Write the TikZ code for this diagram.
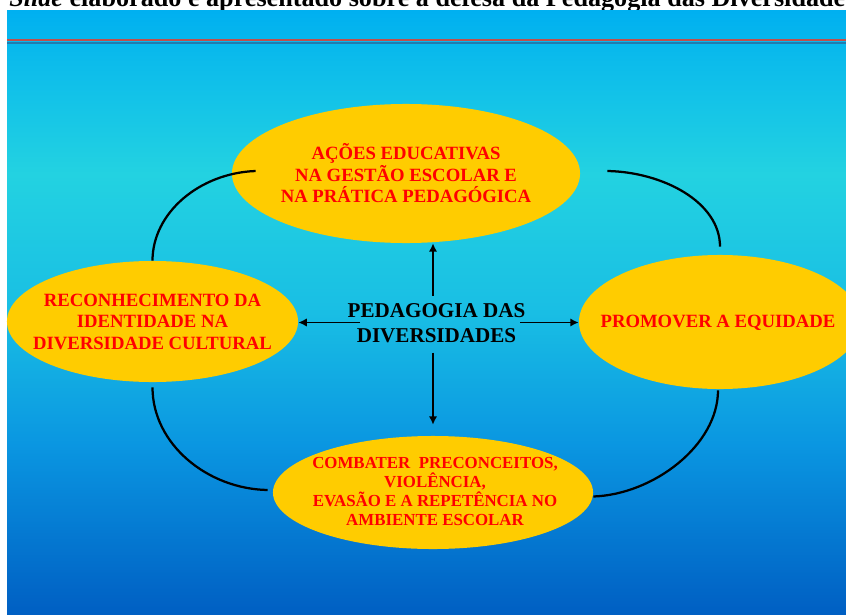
\documentclass[tikz,border=0pt]{standalone}
\usepackage{fontspec}
\setmainfont{Liberation Serif}
\usepackage{tikz}
\usetikzlibrary{calc, shapes.geometric, arrows.meta}

\definecolor{amarelo}{RGB}{255,204,0}
\definecolor{vermelho}{RGB}{255,0,0}
\definecolor{linha}{RGB}{192,80,77}
\definecolor{sombra}{RGB}{40,110,160}
\definecolor{fundoA}{RGB}{0,176,240}
\definecolor{fundoB}{RGB}{10,186,236}
\definecolor{fundoC}{RGB}{35,210,225}
\definecolor{fundoD}{RGB}{25,190,228}
\definecolor{fundoE}{RGB}{10,150,225}
\definecolor{fundoF}{RGB}{0,95,195}
\pgfdeclareverticalshading{fundoslide}{100bp}{color(0bp)=(fundoF); color(25bp)=(fundoF); color(39bp)=(fundoE); color(50bp)=(fundoD); color(61.5bp)=(fundoC); color(71.5bp)=(fundoB); color(75bp)=(fundoA); color(100bp)=(fundoA)}

\tikzset{
  bolha/.style={ellipse, fill=amarelo, inner sep=0pt},
  rotulo/.style={text=vermelho, align=center, font=\bfseries\fontsize{13.3}{15.3}\selectfont},
  centro/.style={align=center, font=\bfseries\fontsize{15}{17.8}\selectfont},
  arco/.style={line width=1.6pt},
  seta/.style={line width=1.4pt, -{Latex[length=6pt,width=6pt]}}
}

\begin{document}
\begin{tikzpicture}[x=0.025cm, y=0.025cm]
        \useasboundingbox (0,0) rectangle (846,614);
        \node[anchor=base west, inner sep=0pt, font=\bfseries\fontsize{18.6}{22}\selectfont] (titulo) at (9,607) {\textit{Slide} elaborado e apresentado sobre a defesa da Pedagogia das Diversidades};
        \fill[shading=fundoslide] (7,0) rectangle (846,603);
        \draw[line width=1.2pt, sombra, opacity=0.8] (7,571) -- (846,571);
        \draw[line width=2pt, linha] (7,574) -- (846,574);
        % bolhas
        \node[bolha, minimum width=8.7cm, minimum height=3.475cm] (acoes) at (406,440.5) {};
        \node[bolha, minimum width=7.275cm, minimum height=3.025cm] (reco) at (152.5,292.5) {};
        \node[bolha, minimum width=7.05cm, minimum height=3.35cm] (promo) at (720,292) {};
        \node[bolha, minimum width=8cm, minimum height=2.825cm] (combat) at (433,121.5) {};
        \node[rotulo] at (acoes) {AÇÕES EDUCATIVAS\\NA GESTÃO ESCOLAR E\\NA PRÁTICA PEDAGÓGICA};
        \node[rotulo] at (reco) {RECONHECIMENTO DA\\IDENTIDADE NA\\DIVERSIDADE CULTURAL};
        \node[rotulo] at ($(promo)+(-2,-1)$) {PROMOVER A EQUIDADE};
        \node[rotulo, font=\bfseries\fontsize{12}{13.5}\selectfont] at ($(combat)+(2,1)$) {COMBATER~ PRECONCEITOS,\\VIOLÊNCIA,\\EVASÃO E A REPETÊNCIA NO\\AMBIENTE ESCOLAR};
        \node[centro] (pedag) at (436.5,291) {PEDAGOGIA DAS\\DIVERSIDADES};
        \coordinate (hub) at (433,291.5);
        % setas
        \draw[seta] ($(hub)+(0,27)$) -- (hub |- acoes.south);
        \draw[seta] ($(hub)+(0,-30)$) -- ($(hub |- combat.north)+(0,11)$);
        \draw[seta] ($(hub)+(-73,0)$) -- (hub -| reco.east);
        \draw[seta] ($(hub)+(87,0)$) -- (hub -| promo.west);
        % arcos
        \draw[arco] (reco.north) .. controls +(0,48) and +(-56,-2) .. ($(acoes.west)+(24,2.5)$);
        \draw[arco] ($(acoes.east)+(27,2.5)$) .. controls +(55,-1) and +(0,45) .. ($(promo.north)+(0,8)$);
        \draw[arco] ($(reco.south)+(0,-5)$) .. controls +(0,-57) and +(-60,1) .. ($(combat.west)+(-5,2.5)$);
        \draw[arco] ($(combat.east)+(0,-4)$) .. controls +(60,2) and +(0,-55) .. ($(promo.south)+(-2,-1)$);
\end{tikzpicture}
\end{document}
